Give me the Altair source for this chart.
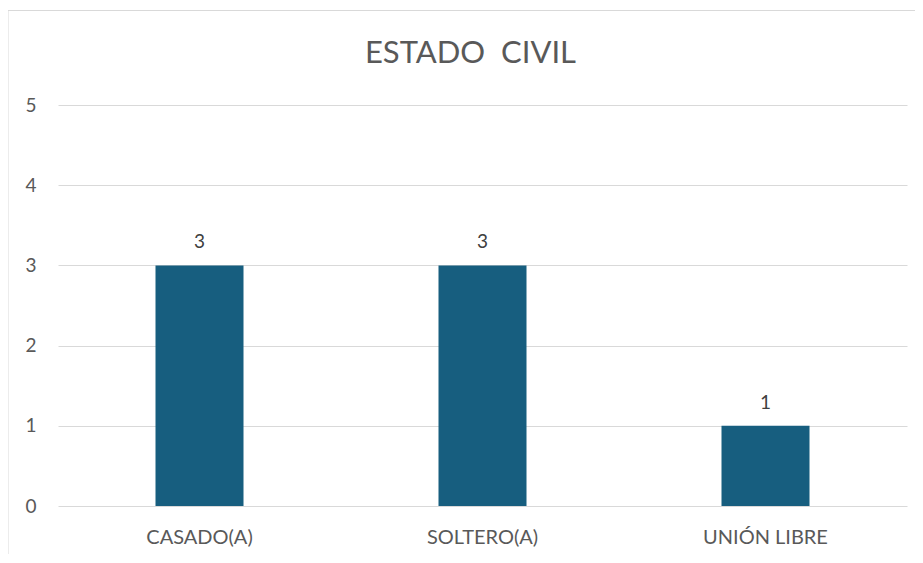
import altair as alt
import pandas as pd

categories = ["CASADO(A)", "SOLTERO(A)", "UNIÓN LIBRE"]
values = [3, 3, 1]
y_ticks = [0, 1, 2, 3, 4, 5]

df = pd.DataFrame({"cat": categories, "val": values})

FONT = "Lato"
W, H = 849, 401

frame = alt.Chart(pd.DataFrame({"a": [0]})).mark_rect(
    fill=None, stroke="#d9d9d9", strokeWidth=1
).encode(
    x=alt.value(-50), x2=alt.value(1000), y=alt.value(-94.5), y2=alt.value(1000)
)

base = alt.Chart(df).encode(
    x=alt.X("cat:N", sort=categories, title=None,
            scale=alt.Scale(paddingInner=0, paddingOuter=0),
            axis=alt.Axis(labelAngle=0, ticks=False, domain=False, labelPadding=21,
                          labelFontSize=20, labelColor="#595959", labelFont=FONT, grid=False)),
    y=alt.Y("val:Q", title=None,
            scale=alt.Scale(domain=[0, 5], nice=False),
            axis=alt.Axis(values=y_ticks, ticks=False, domain=False, labelPadding=22,
                          labelFontSize=19, labelColor="#595959", labelFont=FONT,
                          gridColor="#d9d9d9", gridWidth=1)),
)

bars = base.mark_bar(size=88, color="#175e7f")
labels = base.mark_text(baseline="bottom", dy=-13, fontSize=19, font=FONT, color="#404040").encode(
    text="val:Q"
)

chart = alt.layer(frame, bars, labels).properties(
    width=W, height=H,
    padding={"left": 50, "top": 97, "right": 8, "bottom": 48},
    autosize=alt.AutoSizeParams(type="none"),
    title=alt.TitleParams("ESTADO\u00a0\u00a0CIVIL", font=FONT, fontSize=31, fontWeight="normal",
                          color="#595959", anchor="middle", offset=0,
                          baseline="alphabetic", dy=84, dx=-12),
).configure(background="white").configure_view(stroke=None)

chart.save("out.html", embed_options={"renderer": "svg", "actions": False})
